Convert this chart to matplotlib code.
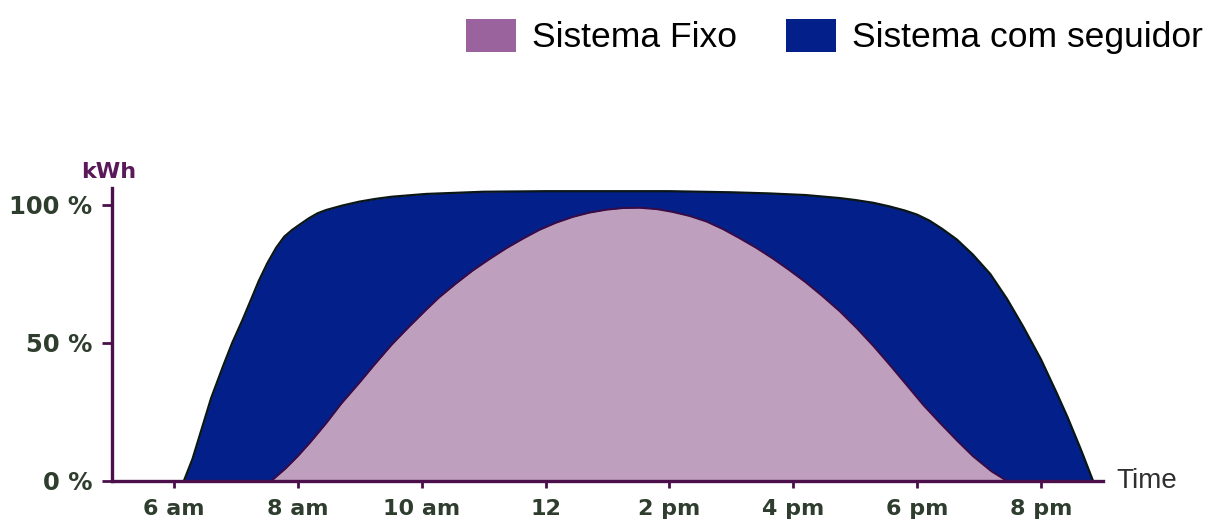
import matplotlib.pyplot as plt
from matplotlib.patches import Patch

# hours of the day (decimal) and output in %
tracker_hours = [6.16, 6.30, 6.45, 6.60, 6.80, 6.94, 7.10, 7.25, 7.37, 7.51, 7.65,
                 7.78, 7.91, 8.05, 8.18, 8.32, 8.46, 8.72, 8.99, 9.25, 9.52, 10.07,
                 11.0, 12.0, 13.0, 14.0, 15.0, 15.6, 16.2, 16.75, 17.0, 17.29,
                 17.55, 17.8, 18.0, 18.2, 18.4, 18.64, 18.9, 19.18, 19.45, 19.71,
                 20.0, 20.25, 20.43, 20.65, 20.84]
tracker_pct = [0, 8, 19, 30, 42, 50, 58, 66, 72.5, 79, 84.5,
               88.5, 91, 93.2, 95.2, 97, 98.2, 99.8, 101.2, 102.2, 103, 104,
               104.8, 105, 105, 105, 104.6, 104.2, 103.6, 102.5, 101.8, 100.8,
               99.5, 98, 96.5, 94.3, 91.4, 87.5, 82, 75, 66, 56,
               44, 32, 23, 11, 0]

fixed_hours = [7.57, 7.8, 8.0, 8.2, 8.46, 8.7, 8.99, 9.25, 9.52, 9.8, 10.07,
               10.28, 10.55, 10.82, 11.1, 11.37, 11.65, 11.9, 12.17, 12.44, 12.7,
               12.98, 13.25, 13.52, 13.8, 14.05, 14.33, 14.6, 14.87, 15.13, 15.4,
               15.67, 15.93, 16.2, 16.47, 16.75, 17.02, 17.29, 17.56, 17.84, 18.1,
               18.37, 18.65, 18.9, 19.2, 19.45]
fixed_pct = [0, 4.5, 9, 14, 21, 28, 35.5, 42.5, 49.5, 56, 62,
             66.5, 71.5, 76.2, 80.5, 84.4, 88, 91, 93.6, 95.7, 97.2,
             98.3, 98.9, 99, 98.5, 97.5, 96, 94, 91.2, 88, 84.5,
             80.6, 76.5, 72, 67, 61.5, 55.5, 49, 42, 34.5, 27.5,
             21, 14.5, 9, 3.5, 0]

x_ticks = [6, 8, 10, 12, 14, 16, 18, 20]
x_labels = ['6 am', '8 am', '10 am', '12', '2 pm', '4 pm', '6 pm', '8 pm']
y_ticks = [0, 50, 100]
y_labels = ['0 %', '50 %', '100 %']

blue = '#03208a'
lilac = '#bea0be'
lilac_legend = '#9a639e'
axis_col = '#4b0f4b'
label_col = '#2e3d2e'

fig = plt.figure(figsize=(12.21, 5.28), dpi=100)
ax = fig.add_axes([112 / 1221, 47 / 528, (1103 - 112) / 1221, 106 * 2.76 / 528])

ax.fill_between(tracker_hours, tracker_pct, color=blue, lw=0)
ax.plot(tracker_hours, tracker_pct, color='#0b1616', lw=1.6, solid_joinstyle='round')
ax.fill_between(fixed_hours, fixed_pct, color=lilac, lw=0)
ax.plot(fixed_hours, fixed_pct, color='#3a0a45', lw=1.4, solid_joinstyle='round')

ax.set_xlim(5, 21)
ax.set_ylim(0, 106)
for s in ['top', 'right']:
    ax.spines[s].set_visible(False)
for s in ['left', 'bottom']:
    ax.spines[s].set_color(axis_col)
    ax.spines[s].set_linewidth(2.4)

ax.set_xticks(x_ticks)
ax.set_xticklabels(x_labels, fontfamily='DejaVu Sans', fontweight='bold', fontsize=16, color=label_col)
ax.set_yticks(y_ticks)
ax.set_yticklabels(y_labels, fontfamily='DejaVu Sans', fontweight='bold', fontsize=17.5, color=label_col)
ax.tick_params(axis='x', length=5, width=2, color=axis_col, pad=8)
ax.tick_params(axis='y', length=7, width=2, color=axis_col, pad=7)

ax.text(4.95, 112, 'kWh', fontfamily='DejaVu Sans', fontweight='bold', fontsize=16,
        color='#5a1a5a', ha='center', va='center', clip_on=False)
ax.text(21.22, 0, 'Time', fontfamily='Liberation Sans', fontsize=20, color='#2f2f2f',
        ha='left', va='center', clip_on=False)

handles = [Patch(facecolor=lilac_legend, label='Sistema Fixo'),
           Patch(facecolor=blue, label='Sistema com seguidor')]
fig.legend(handles=handles, loc='upper right', bbox_to_anchor=(1.011, 1.025),
           ncol=2, frameon=False, prop={'family': 'Liberation Sans', 'size': 25.5},
           handlelength=1.4, handleheight=1.05, handletextpad=0.45, columnspacing=1.4)

fig.savefig('out.png', dpi=100)
